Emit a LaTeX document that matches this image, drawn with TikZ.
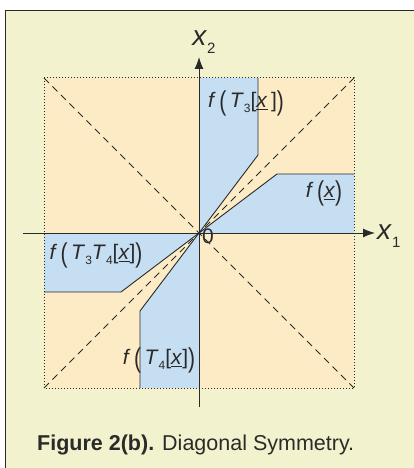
\documentclass[tikz,border=0pt]{standalone}
\usepackage{fontspec}
\setmainfont{Liberation Sans}
\usetikzlibrary{arrows.meta}
\definecolor{bgc}{HTML}{F2F3CE}
\definecolor{orc}{HTML}{FDEBC6}
\definecolor{blc}{HTML}{C6DEF2}
\definecolor{inkc}{HTML}{2A2A2A}
\newcommand\bigP[1]{\raisebox{-0.12em}{\scalebox{1}[1.3]{#1}}}
\newcommand\ulx{\underline{\textit{x}}}
\newcommand\sub[1]{\raisebox{-0.25em}{\fontsize{12}{12}\selectfont #1}}
\tikzset{
  lbl/.style={font=\fontsize{21}{24}\selectfont, inner sep=0pt, text=inkc},
  axislbl/.style={font=\fontsize{28}{30}\selectfont, inner sep=0pt, text=inkc},
  bound/.style={draw=inkc, line width=0.9pt},
  diag/.style={draw=inkc, line width=0.9pt, dash pattern=on 7pt off 5pt},
  sq/.style={draw=inkc, line width=1pt, dotted},
  axis/.style={draw=inkc, line width=1pt},
  tip/.style={-{Latex[length=12pt,width=9pt]}}
}
\begin{document}
\begin{tikzpicture}[x=1pt,y=-1pt]
\useasboundingbox (0,0) rectangle (414,468);
\fill[white] (0,0) rectangle (414,468);
\fill[bgc] (5,10) rectangle (414,468);
\draw[draw=inkc, line width=0.8pt] (5,468) -- (5,10) -- (414,10);
\begin{scope}[shift={(199,233)}]
  \coordinate (O) at (0,0);
  \coordinate (NW) at (-155,-155);
  \coordinate (NE) at (155,-155);
  \coordinate (SW) at (-155,155);
  \coordinate (SE) at (155,155);
  \fill[orc] (NW) rectangle (SE);
  % regions
  \fill[blc] (O) -- (78,-59) -- (155,-59) -- (155,0) -- cycle;
  \fill[blc] (O) -- (59,-78) -- (59,-155) -- (0,-155) -- cycle;
  \fill[blc] (O) -- (-78,59) -- (-155,59) -- (-155,0) -- cycle;
  \fill[blc] (O) -- (-59,78) -- (-59,155) -- (0,155) -- cycle;
  % diagonals
  \draw[diag] (NW) -- (SE);
  \draw[diag] (SW) -- (NE);
  % dotted square
  \draw[sq] (NW) rectangle (SE);
  % boundaries
  \draw[bound] (O) -- (78,-59) -- (155,-59);
  \draw[bound] (O) -- (59,-78) -- (59,-155);
  \draw[bound] (O) -- (-78,59) -- (-155,59);
  \draw[bound] (O) -- (-59,78) -- (-59,155);
  % axes
  \coordinate (xa) at (-176,0);
  \coordinate (xb) at (176,0);
  \coordinate (ya) at (0,174);
  \coordinate (yb) at (0,-176);
  \draw[axis, tip] (xa) -- (xb);
  \draw[axis, tip] (ya) -- (yb);
  \node[axislbl, anchor=west] (x1) at (178,3) {\textit{x}\raisebox{-0.3em}{\fontsize{15}{15}\selectfont 1}};
  \node[axislbl] (x2) at (5,-191) {\textit{x}\raisebox{-0.3em}{\fontsize{15}{15}\selectfont 2}};
  \node[font=\fontsize{21}{22}\selectfont, inner sep=0pt, text=inkc] (zero) at (9,3) {0};
  % labels
  \node[lbl] (lT3) at (47,-130) {\textit{f}\,\bigP{(}\,\textit{T}\sub{3}[\ulx\,]\bigP{)}};
  \node[lbl] (lf) at (125,-40) {\textit{f}\,\bigP{(}\ulx\bigP{)}};
  \node[lbl] (lT34) at (-103,22) {\textit{f}\,\bigP{(}\,\textit{T}\sub{3}\textit{T}\sub{4}[\ulx]\bigP{)}};
  \node[lbl] (lT4) at (-40,127) {\textit{f}\,\bigP{(}\,\textit{T}\sub{4}[\ulx]\bigP{)}};
\end{scope}
\node[anchor=base west, inner sep=0pt, text=inkc, font=\fontsize{21.5}{24}\selectfont] (cap) at (37,450) {\textbf{Figure 2(b).} Diagonal Symmetry.};
\end{tikzpicture}
\end{document}
